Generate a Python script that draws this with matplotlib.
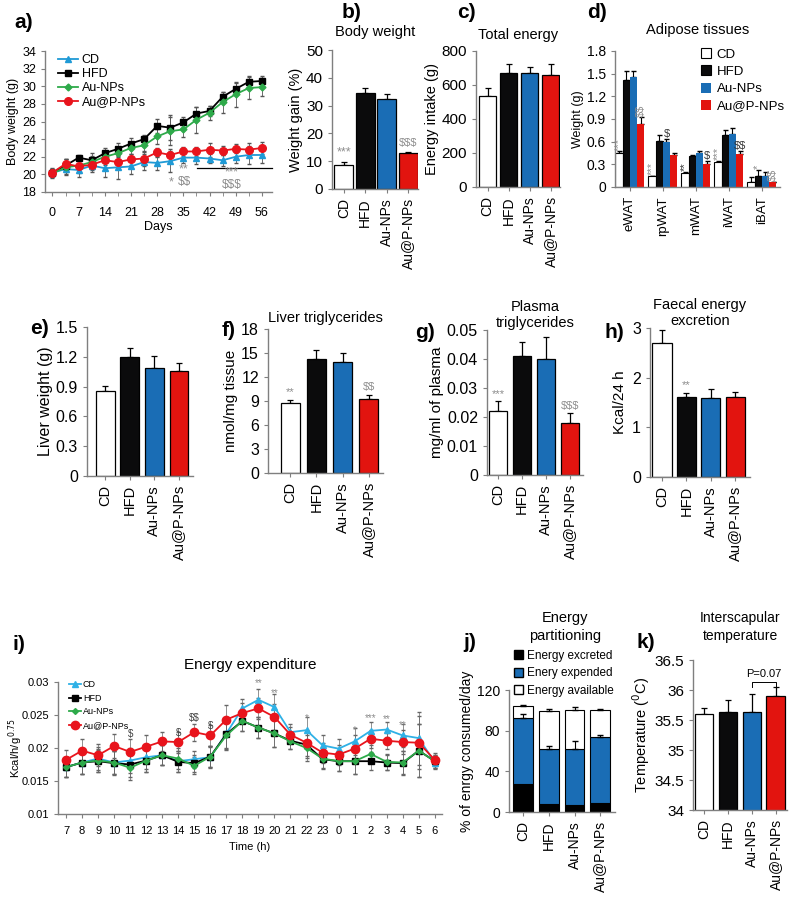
import matplotlib.pyplot as plt
from matplotlib.patches import Patch
import numpy as np

plt.rcParams['font.family'] = ['Liberation Sans', 'DejaVu Sans']

# ---------------- data ----------------
groups = ["CD", "HFD", "Au-NPs", "Au@P-NPs"]
bar_colors = ["white", "#0b0b0c", "#1a6db5", "#e2140f"]

# a) body weight over time
days = [0, 3.5, 7, 10.5, 14, 17.5, 21, 24.5, 28, 31.5, 35, 38.5, 42, 45.5, 49, 52.5, 56]
bw_cd = [20.2, 20.6, 20.5, 21.0, 20.7, 20.8, 20.9, 21.4, 21.3, 21.5, 21.9, 21.9, 21.8, 21.6, 22.0, 22.2, 22.2]
bw_hfd = [20.2, 21.0, 21.9, 21.6, 22.4, 22.9, 23.5, 24.0, 25.5, 25.3, 25.9, 26.9, 27.2, 28.8, 29.7, 30.5, 30.6]
bw_au = [20.1, 20.8, 21.0, 21.4, 22.0, 22.4, 23.0, 23.3, 24.3, 24.9, 25.1, 26.2, 27.0, 28.2, 29.1, 29.8, 29.9]
bw_aup = [20.2, 21.2, 20.9, 21.1, 21.6, 21.4, 21.7, 21.8, 22.5, 22.2, 22.6, 22.6, 22.8, 22.7, 22.9, 22.8, 23.0]
bw_cd_err = [0.4, 0.6, 0.8, 0.7, 1.0, 1.3, 0.9, 0.9, 0.8, 1.2, 0.6, 0.7, 0.5, 0.6, 0.7, 1.0, 0.9]
bw_hfd_err = [0.5, 0.7, 0.3, 0.8, 0.6, 0.7, 0.6, 0.5, 0.8, 1.4, 0.6, 0.8, 0.6, 0.6, 0.7, 0.7, 0.6]
bw_au_err = [0.5, 0.9, 0.8, 0.7, 0.7, 0.6, 0.7, 0.8, 0.9, 1.6, 0.9, 1.5, 0.8, 1.2, 1.4, 1.2, 1.0]
bw_aup_err = [0.4, 0.5, 0.6, 0.6, 0.5, 0.6, 0.6, 0.9, 0.5, 0.7, 0.5, 0.5, 0.8, 0.5, 0.5, 0.8, 0.7]

# b) c) e) f) g) h) k) simple bar panels
gain = [8.8, 34.5, 32.5, 12.8]
gain_err = [0.8, 1.8, 1.5, 0.6]
energy = [535, 672, 672, 660]
energy_err = [50, 50, 35, 65]
liver = [0.86, 1.20, 1.09, 1.06]
liver_err = [0.05, 0.09, 0.12, 0.08]
liver_tg = [8.7, 14.2, 13.9, 9.2]
liver_tg_err = [0.4, 1.2, 1.1, 0.5]
plasma_tg = [0.022, 0.041, 0.040, 0.018]
plasma_tg_err = [0.0035, 0.005, 0.0075, 0.0035]
faecal = [2.7, 1.62, 1.60, 1.62]
faecal_err = [0.25, 0.08, 0.17, 0.10]
temp = [35.60, 35.63, 35.64, 35.90]
temp_err = [0.10, 0.20, 0.30, 0.15]

# d) adipose tissues
tissues = ["eWAT", "rpWAT", "mWAT", "iWAT", "iBAT"]
fat_cd = [0.45, 0.14, 0.19, 0.33, 0.07]
fat_hfd = [1.41, 0.61, 0.41, 0.69, 0.15]
fat_au = [1.45, 0.59, 0.45, 0.70, 0.14]
fat_aup = [0.83, 0.43, 0.31, 0.44, 0.06]
fat_cd_err = [0.03, 0.01, 0.01, 0.02, 0.06]
fat_hfd_err = [0.12, 0.08, 0.02, 0.07, 0.08]
fat_au_err = [0.09, 0.04, 0.03, 0.08, 0.06]
fat_aup_err = [0.09, 0.02, 0.03, 0.03, 0.01]

# i) energy expenditure
hours = ["7", "8", "9", "10", "11", "12", "13", "14", "15", "16", "17", "18", "19", "20",
         "21", "22", "23", "0", "1", "2", "3", "4", "5", "6"]
ee_cd = [0.0171, 0.0178, 0.0184, 0.0178, 0.0181, 0.0186, 0.0189, 0.0180, 0.0183, 0.0186, 0.0222, 0.0260,
         0.0273, 0.0262, 0.0224, 0.0227, 0.0204, 0.0199, 0.0210, 0.0226, 0.0228, 0.0219, 0.0215, 0.0178]
ee_hfd = [0.0171, 0.0178, 0.0180, 0.0177, 0.0175, 0.0181, 0.0189, 0.0179, 0.0177, 0.0187, 0.0221, 0.0241,
          0.0231, 0.0222, 0.0211, 0.0205, 0.0183, 0.0180, 0.0180, 0.0180, 0.0178, 0.0177, 0.0196, 0.0180]
ee_au = [0.0171, 0.0178, 0.0181, 0.0178, 0.0170, 0.0181, 0.0189, 0.0184, 0.0173, 0.0187, 0.0219, 0.0241,
         0.0231, 0.0222, 0.0210, 0.0200, 0.0184, 0.0180, 0.0180, 0.0191, 0.0179, 0.0178, 0.0196, 0.0180]
ee_aup = [0.0182, 0.0196, 0.0189, 0.0203, 0.0194, 0.0202, 0.0210, 0.0209, 0.0224, 0.0219, 0.0243, 0.0253,
          0.0260, 0.0247, 0.0220, 0.0208, 0.0193, 0.0190, 0.0199, 0.0214, 0.0211, 0.0209, 0.0208, 0.0182]
ee_err = [0.0015, 0.0017, 0.0017, 0.0018, 0.0019, 0.0018, 0.0015, 0.0016, 0.0013, 0.0016, 0.0022, 0.0015,
          0.0016, 0.0020, 0.0012, 0.0020, 0.0015, 0.0015, 0.0020, 0.0014, 0.0012, 0.0018, 0.0040, 0.0010]

# j) energy partitioning (%)
excreted = [27.5, 8.2, 7.2, 9.2]
expended = [64.7, 53.6, 54.6, 64.4]
available = [12.4, 37.9, 38.2, 26.4]
expended_err = [4, 3, 8, 2]
total_err = [0.5, 2, 3, 1]

# ---------------- layout helpers ----------------
W, H = 789, 901
fig = plt.figure(figsize=(W / 100, H / 100), dpi=100)
GREY = "#7f7f7f"
SIG = "#8c8c8c"


def px_axes(l, t, r, b):
    ax = fig.add_axes([l / W, 1 - b / H, (r - l) / W, (b - t) / H])
    ax.spines[['top', 'right']].set_visible(False)
    for s in ('left', 'bottom'):
        ax.spines[s].set_color(GREY)
        ax.spines[s].set_linewidth(1.0)
    ax.tick_params(color=GREY, length=3)
    return ax


def ftext(x, y, s, **kw):
    fig.text(x / W, 1 - y / H, s, **kw)


def sig(ax, x, y, s, **kw):
    # literal $ signs, not mathtext
    ax.text(x, y, s.replace("$", r"\$"), **kw)


def bar_panel(ax, vals, errs, width, xlim, ylim, yticks, ylabel, fs=10, yfmt=None):
    x = np.arange(len(vals))
    ax.bar(x, vals, width, color=bar_colors, edgecolor="black", lw=0.9, zorder=2)
    ax.errorbar(x, vals, yerr=[np.zeros(len(vals)), errs], fmt="none", ecolor="black",
                capsize=2.5, lw=0.9, capthick=0.9, zorder=1)
    ax.set_xlim(*xlim)
    ax.set_ylim(*ylim)
    ax.set_yticks(yticks)
    if yfmt:
        ax.set_yticklabels([yfmt.format(v) for v in yticks])
    ax.set_xticks(x)
    ax.set_xticklabels(groups, rotation=90, fontsize=fs)
    ax.tick_params(axis="y", labelsize=fs + 1)
    ax.set_ylabel(ylabel, fontsize=fs + 0.5, labelpad=2)


# ---------------- a) ----------------
ax = px_axes(45, 51, 272, 192)
series = [(bw_cd, bw_cd_err, "#1f9ad6", "^", 5, "CD"),
          (bw_hfd, bw_hfd_err, "black", "s", 5, "HFD"),
          (bw_au, bw_au_err, "#2eaa4a", "D", 3.5, "Au-NPs"),
          (bw_aup, bw_aup_err, "#e8141c", "o", 5.5, "Au@P-NPs")]
for vals, err, c, m, ms, lab in series:
    ax.errorbar(days, vals, yerr=err, fmt="none", ecolor="#555555", lw=0.6, capsize=1.5, zorder=1)
    ax.plot(days, vals, color=c, marker=m, ms=ms, lw=1.3, label=lab, zorder=3)
ax.set_xlim(-2, 58.7)
ax.set_ylim(18, 34)
ax.set_yticks(range(18, 35, 2))
ax.set_xticks([0, 7, 14, 21, 28, 35, 42, 49, 56])
ax.set_xticks(days, minor=True)
ax.tick_params(which="minor", color=GREY, length=3)
ax.tick_params(labelsize=9)
ax.tick_params(axis="x", pad=8)
ax.set_xlabel("Days", fontsize=9, labelpad=1)
ax.set_ylabel("Body weight (g)", fontsize=9, labelpad=2)
ax.legend(loc="upper left", frameon=False, fontsize=9, handlelength=1.6, borderaxespad=0.1,
          labelspacing=0.15, handletextpad=0.3, bbox_to_anchor=(0.03, 1.02))
ax.plot([38.7, 58.7], [20.7, 20.7], color="black", lw=0.9, clip_on=False)
sig(ax, 35, 19.9, "**", color=SIG, fontsize=9, ha="center", va="bottom")
sig(ax, 31.8, 19.8, "*", color=SIG, fontsize=9, ha="center", va="top")
sig(ax, 35.4, 19.8, "$$", color=SIG, fontsize=8.5, ha="center", va="top")
sig(ax, 48, 19.55, "***", color=SIG, fontsize=8.5, ha="center", va="bottom")
sig(ax, 48, 19.5, "$$$", color=SIG, fontsize=8.5, ha="center", va="top")
ftext(14, 22, "a)", fontsize=15, fontweight="bold", va="center")

# ---------------- b) ----------------
ax = px_axes(332, 50, 418, 189)
bar_panel(ax, gain, gain_err, 0.88, (-0.55, 3.45), (0, 50), range(0, 51, 10), "Weight gain (%)")
sig(ax, 0, gain[0] + gain_err[0] + 1.5, "***", color=SIG, fontsize=9, ha="center", va="bottom")
sig(ax, 3, gain[3] + gain_err[3] + 1.5, "$$$", color=SIG, fontsize=8, ha="center", va="bottom")
ax.set_title("Body weight", fontsize=10.5, pad=10)
ftext(342, 13, "b)", fontsize=15, fontweight="bold", va="center")

# ---------------- c) ----------------
ax = px_axes(476, 51, 560, 187)
bar_panel(ax, energy, energy_err, 0.82, (-0.55, 3.45), (0, 800), range(0, 801, 200), "Energy intake (g)")
ax.set_title("Total energy", fontsize=10.5, pad=9)
ftext(457, 13, "c)", fontsize=15, fontweight="bold", va="center")

# ---------------- d) ----------------
ax = px_axes(615, 51, 780, 187)
xg = np.arange(len(tissues))
bw = 0.22
fat_vals = [fat_cd, fat_hfd, fat_au, fat_aup]
fat_errs = [fat_cd_err, fat_hfd_err, fat_au_err, fat_aup_err]
for k in range(4):
    xs = xg + (k - 1.5) * bw
    ax.bar(xs, fat_vals[k], bw, color=bar_colors[k], edgecolor="black" if k < 2 else "none",
           lw=0.8, label=groups[k], zorder=2)
    ax.errorbar(xs, fat_vals[k], yerr=[np.zeros(5), fat_errs[k]], fmt="none", ecolor="black",
                capsize=1.8, lw=0.8, zorder=1)
ax.set_xlim(-0.45, 4.55)
ax.set_ylim(0, 1.8)
ax.set_yticks([0, 0.3, 0.6, 0.9, 1.2, 1.5, 1.8])
ax.set_yticklabels(["0", "0.3", "0.6", "0.9", "1.2", "1.5", "1.8"])
ax.set_xticks(xg)
ax.set_xticklabels(tissues, rotation=90, fontsize=9.5)
ax.tick_params(axis="y", labelsize=10)
ax.set_ylabel("Weight (g)", fontsize=9, labelpad=2)
ax.set_title("Adipose tissues", fontsize=10.5, pad=12)
ax.legend(loc="upper right", frameon=False, fontsize=9.5, handlelength=0.8, handleheight=0.8,
          labelspacing=0.35, handletextpad=0.4, borderaxespad=0.0, bbox_to_anchor=(1.06, 1.06))
rot_sig = [(0, 0, "***", 0.48, SIG), (0, 3, "$$", 0.93, SIG), (1, 0, "***", 0.16, SIG),
           (2, 0, "**", 0.21, "#333333"), (3, 0, "***", 0.36, SIG), (4, 1, "*", 0.24, SIG),
           (4, 3, "$$", 0.08, SIG)]
for g, k, s, y, c in rot_sig:
    sig(ax, g + (k - 1.5) * bw, y, s, color=c, fontsize=8, rotation=90, ha="center", va="bottom")
flat_sig = [(1, 2, "$", 0.64), (2, 3, "$", 0.35), (3, 3, "$$", 0.48)]
for g, k, s, y in flat_sig:
    sig(ax, g + (k - 1.5) * bw, y, s, color="#333333", fontsize=8, ha="center", va="bottom")
ftext(587, 13, "d)", fontsize=15, fontweight="bold", va="center")

# ---------------- e) ----------------
ax = px_axes(87, 327, 193, 476)
bar_panel(ax, liver, liver_err, 0.76, (-0.74, 3.57), (0, 1.5), [0, 0.3, 0.6, 0.9, 1.2, 1.5],
          "Liver weight (g)", fs=10.5, yfmt="{:g}")
ax.tick_params(axis="y", labelsize=11.5)
ax.set_ylabel("Liver weight (g)", fontsize=11.5, labelpad=2)
ftext(30, 328, "e)", fontsize=15, fontweight="bold", va="center")

# ---------------- f) ----------------
ax = px_axes(268, 329, 383, 473)
bar_panel(ax, liver_tg, liver_tg_err, 0.72, (-0.84, 3.54), (0, 18), range(0, 19, 3),
          "nmol/mg tissue", fs=10.5)
ax.tick_params(axis="y", labelsize=11.5)
ax.set_ylabel("nmol/mg tissue", fontsize=11, labelpad=2)
sig(ax, 0, liver_tg[0] + liver_tg_err[0] + 0.4, "**", color=SIG, fontsize=8, ha="center", va="bottom")
sig(ax, 3, liver_tg[3] + liver_tg_err[3] + 0.4, "$$", color=SIG, fontsize=8, ha="center", va="bottom")
ax.set_title("Liver triglycerides", fontsize=10.5, pad=5)
ftext(222, 330, "f)", fontsize=15, fontweight="bold", va="center")

# ---------------- g) ----------------
ax = px_axes(487, 330, 583, 475)
bar_panel(ax, plasma_tg, plasma_tg_err, 0.75, (-0.46, 3.54), (0, 0.05),
          [0, 0.01, 0.02, 0.03, 0.04, 0.05], "mg/ml of plasma", fs=10.5, yfmt="{:g}")
ax.tick_params(axis="y", labelsize=11.5)
ax.set_ylabel("mg/ml of plasma", fontsize=11, labelpad=2)
sig(ax, 0, plasma_tg[0] + plasma_tg_err[0] + 0.0006, "***", color=SIG, fontsize=8, ha="center", va="bottom")
sig(ax, 3, plasma_tg[3] + plasma_tg_err[3] + 0.0006, "$$$", color=SIG, fontsize=8, ha="center", va="bottom")
ax.set_title("Plasma\ntriglycerides", fontsize=10.5, pad=-3, linespacing=1.15)
ftext(415, 332, "g)", fontsize=15, fontweight="bold", va="center")

# ---------------- h) ----------------
ax = px_axes(650, 328, 750, 477)
bar_panel(ax, faecal, faecal_err, 0.78, (-0.49, 3.6), (0, 3), [0, 1, 2, 3], "Kcal/24 h", fs=10.5)
ax.tick_params(axis="y", labelsize=11.5)
ax.set_ylabel("Kcal/24 h", fontsize=11, labelpad=4)
sig(ax, 1, faecal[1] + faecal_err[1] + 0.05, "**", color=SIG, fontsize=8, ha="center", va="bottom")
ax.set_title("Faecal energy\nexcretion", fontsize=10.5, pad=-4, linespacing=1.15)
ftext(605, 332, "h)", fontsize=15, fontweight="bold", va="center")

# ---------------- i) ----------------
ax = px_axes(58, 682, 442, 814)
xi = np.arange(len(hours))
iser = [(ee_cd, "#2fb1e6", "^", 4.5, "CD"),
        (ee_hfd, "black", "s", 4, "HFD"),
        (ee_au, "#2eaa4a", "D", 3, "Au-NPs"),
        (ee_aup, "#e8141c", "o", 6, "Au@P-NPs")]
for vals, c, m, ms, lab in iser:
    ax.errorbar(xi, vals, yerr=ee_err, fmt="none", ecolor="#666666", lw=0.5, capsize=1.2, zorder=1)
    ax.plot(xi, vals, color=c, marker=m, ms=ms, lw=1.3, label=lab, zorder=3)
ax.set_xlim(-0.5, 23.45)
ax.set_ylim(0.01, 0.03)
ax.set_yticks([0.01, 0.015, 0.02, 0.025, 0.03])
ax.set_yticklabels(["0.01", "0.015", "0.02", "0.025", "0.03"])
ax.set_xticks(xi)
ax.set_xticklabels(hours)
ax.tick_params(labelsize=8)
ax.tick_params(axis="x", pad=6)
ax.set_xlabel("Time (h)", fontsize=8)
ax.set_ylabel("Kcal/h/g$^{\\,0.75}$", fontsize=8)
ax.yaxis.set_label_coords(-0.085, 0.5)
ax.legend(loc="upper left", frameon=False, fontsize=6.5, handlelength=1.3, borderaxespad=0.0,
          labelspacing=0.5, handletextpad=0.2, bbox_to_anchor=(0.02, 1.04))
isig = [(4, "$", 0.0221, "#444444"), (7, "$", 0.0222, "#444444"), (8, "$$", 0.0245, "#444444"),
        (9, "$", 0.0233, "#444444"), (12, "**", 0.0298, SIG), (13, "**", 0.0283, SIG),
        (15, "*", 0.0245, SIG), (18, "*", 0.0227, SIG), (19, "***", 0.0245, SIG),
        (20, "**", 0.0244, SIG), (21, "**", 0.0235, SIG)]
for k, s, y, c in isig:
    sig(ax, k, y, s, color=c, fontsize=7, ha="center", va="center")
ax.set_title("Energy expenditure", fontsize=11, pad=9, x=0.5)
ftext(12, 645, "i)", fontsize=15, fontweight="bold", va="center")

# ---------------- j) ----------------
ax = px_axes(509, 690, 615, 812)
xj = np.arange(4)
bot2 = np.array(excreted) + np.array(expended)
ax.bar(xj, excreted, 0.77, color="black", edgecolor="black", lw=0.8, zorder=2)
ax.bar(xj, expended, 0.77, bottom=excreted, color="#1a6db5", edgecolor="black", lw=0.8, zorder=2)
ax.bar(xj, available, 0.77, bottom=bot2, color="white", edgecolor="black", lw=0.8, zorder=2)
ax.errorbar(xj, bot2, yerr=[np.zeros(4), expended_err], fmt="none", ecolor="black", capsize=2.5, lw=0.8, zorder=3)
ax.errorbar(xj, bot2 + np.array(available), yerr=[np.zeros(4), total_err], fmt="none", ecolor="black",
            capsize=2.5, lw=0.8, zorder=3)
ax.set_xlim(-0.54, 3.57)
ax.set_ylim(0, 120)
ax.set_yticks([0, 40, 80, 120])
ax.set_xticks(xj)
ax.set_xticklabels(groups, rotation=90, fontsize=10)
ax.tick_params(axis="y", labelsize=10)
ax.set_ylabel("% of enrgy consumed/day", fontsize=10, labelpad=2)
handles = [Patch(facecolor="black", edgecolor="black", label="Energy excreted"),
           Patch(facecolor="#1a6db5", edgecolor="black", label="Enery expended"),
           Patch(facecolor="white", edgecolor="black", label="Energy available")]
fig.legend(handles=handles, loc="upper left", bbox_to_anchor=(514 / W, 1 - 650 / H), frameon=False,
           fontsize=8.5, handlelength=0.8, handleheight=0.8, labelspacing=0.45, handletextpad=0.3,
           borderaxespad=0.0, borderpad=0.0)
ftext(565, 618, "Energy", fontsize=10.5, ha="center", va="center")
ftext(565, 636, "partitioning", fontsize=10.5, ha="center", va="center")
ftext(463, 643, "j)", fontsize=15, fontweight="bold", va="center")

# ---------------- k) ----------------
ax = px_axes(693, 660, 787, 810)
bar_panel(ax, temp, temp_err, 0.76, (-0.46, 3.48), (34, 36.5), [34, 34.5, 35, 35.5, 36, 36.5],
          "Temperature ($^{0}$C)", fs=10, yfmt="{:g}")
ax.set_ylabel("Temperature ($^{0}$C)", fontsize=10.5, labelpad=2)
ax.plot([2, 2, 3, 3], [36.05, 36.13, 36.13, 36.05], color="black", lw=0.7)
ax.text(2.5, 36.18, "P=0.07", fontsize=8, ha="center", va="bottom")
ftext(740, 618, "Interscapular", fontsize=10, ha="center", va="center")
ftext(740, 636, "temperature", fontsize=10, ha="center", va="center")
ftext(637, 643, "k)", fontsize=15, fontweight="bold", va="center")

fig.savefig("out.png", dpi=100, facecolor="white")
